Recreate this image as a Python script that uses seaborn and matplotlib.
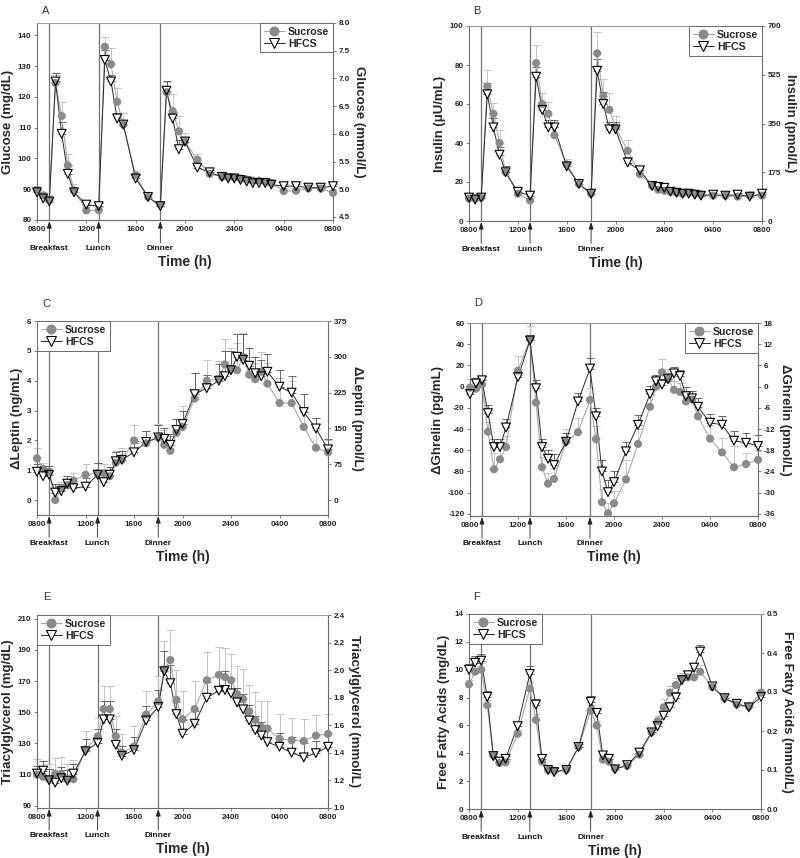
import numpy as np
import pandas as pd
import matplotlib
matplotlib.use("Agg")
import matplotlib.pyplot as plt
from matplotlib.lines import Line2D
import seaborn as sns

sns.set_theme(style="white")
plt.rcParams['font.family'] = ['Liberation Sans', 'DejaVu Sans']

# ---------------- data ----------------
# hours after 08:00
TIME = [0, 0.5, 1, 1.5, 2, 2.5, 3, 4, 5, 5.5, 6, 6.5, 7, 8, 9, 10, 10.5, 11, 11.5, 12,
        13, 14, 15, 15.5, 16, 16.5, 17, 17.5, 18, 18.5, 19, 20, 21, 22, 23, 24]
XTICKS = [0, 4, 8, 12, 16, 20, 24]
XTICK_LABELS = ["0800", "1200", "1600", "2000", "2400", "0400", "0800"]
MEAL_TIMES = [1, 5, 10]
MEAL_LABELS = ["Breakfast", "Lunch", "Dinner"]

glu_suc = [89.8, 88, 86.5, 124.5, 113.8, 97.7, 89.6, 83.1, 83.2, 136.3, 130.6, 118.4, 111, 94.5,
           87.5, 85, 121.5, 115.4, 108.8, 105.5, 99.6, 95, 94, 94, 93.8, 93.5, 93.2, 92.8, 92.8,
           92.5, 92, 89.4, 89.5, 90.3, 90.2, 88.8]
glu_suc_err = [1.2, 1, 1.5, 2.5, 4.4, 3.8, 2, 1.2, 1, 3.3, 5.4, 4.4, 3.6, 1.4, 1.6, 1, 3.2, 5.5, 5,
               2.7, 2, 1.2, 1.2, 1, 1, 1, 1, 1, 1, 1, 1, 1, 1, 1, 1, 1]
glu_hfcs = [89, 87, 86, 125, 108, 95, 89, 85, 84.5, 132, 125, 113, 111, 93.5, 87.5, 84.5, 122,
            113, 103, 105.5, 97, 95.5, 94, 93.5, 93.5, 93, 92.5, 92, 92, 92, 91.5, 91, 91, 90.5,
            90.5, 91]
glu_hfcs_err = [0.8, 0.8, 1.5, 2.9, 3.8, 2.9, 1.5, 1, 1, 3.2, 2.2, 1.6, 1.5, 1, 1, 1, 3, 2.2, 2.9,
                1.5, 1, 0.8, 0.8, 0.8, 0.8, 0.8, 0.8, 0.8, 0.8, 0.8, 0.8, 0.8, 0.8, 0.8, 0.8, 0.8]

ins_suc = [11.5, 11.5, 12, 69, 55, 40, 25, 14, 10.5, 81, 60, 55, 44, 29, 19, 14, 86, 64, 57, 48,
           36, 24, 18, 16, 15.5, 15, 14.5, 14, 14.5, 14, 13.5, 13, 13, 12.5, 13, 13]
ins_suc_err = [1.2, 1.2, 1.2, 8.4, 5.5, 6.5, 3.4, 1.5, 1.5, 9.2, 5.6, 6, 4.3, 2.6, 2, 2, 10.8, 8.9,
               8.6, 5.6, 5.5, 2.5, 1.5, 1.5, 1.2, 1.2, 1.2, 1.2, 1.2, 1.2, 1.2, 1.2, 1.2, 1.2, 1.2, 1.2]
ins_hfcs = [12, 11, 12, 65, 48, 34, 25, 15, 13, 74, 57, 48, 48, 28, 19, 14, 77, 60, 47, 47, 30,
            26, 18, 17.5, 17, 15, 14.5, 14, 14, 13.5, 13, 13.5, 13, 13.5, 12.5, 14]
ins_hfcs_err = [1, 1, 1, 6, 5, 4, 3, 1.5, 1.5, 5, 4, 4, 4, 2.5, 2, 1.5, 6, 6, 4, 4, 3, 2, 1, 1, 1,
                1, 1, 1, 1, 1, 1, 1, 1, 1, 1, 1]

lep_suc = [1.4, 1.05, 0.95, 0.0, 0.4, 0.5, 0.65, 0.85, 0.9, 0.9, 0.8, 1.25, 1.35, 2.0, 1.9, 2.1,
           1.85, 1.65, 2.25, 2.45, 3.4, 4.0, 4.05, 4.55, 4.4, 4.35, 4.8, 4.2, 4.05, 4.3, 3.9, 3.25,
           3.25, 2.45, 1.75, 1.6]
lep_suc_err = [0.35, 0.2, 0.2, 0.25, 0.2, 0.2, 0.25, 0.35, 0.35, 0.3, 0.3, 0.4, 0.4, 0.5, 0.4,
               0.45, 0.5, 0.5, 0.45, 0.7, 0.85, 0.7, 0.6, 0.85, 0.7, 0.9, 0.8, 0.6, 0.55, 0.65,
               0.7, 0.85, 0.75, 0.55, 0.6, 0.4]
lep_hfcs = [0.95, 0.8, 0.85, 0.25, 0.3, 0.55, 0.4, 0.45, 0.85, 0.6, 0.85, 1.3, 1.35, 1.6, 1.95,
            2.1, 2.05, 1.85, 2.35, 2.55, 3.55, 3.75, 4.0, 4.15, 4.35, 4.8, 4.7, 4.5, 4.25, 4.15,
            4.3, 3.8, 3.6, 2.95, 2.4, 1.7]
lep_hfcs_err = [0.25, 0.2, 0.3, 0.3, 0.25, 0.25, 0.25, 0.3, 0.4, 0.3, 0.25, 0.3, 0.3, 0.3, 0.35,
                0.4, 0.35, 0.35, 0.35, 0.45, 0.7, 0.45, 0.55, 0.85, 0.65, 0.75, 0.85, 0.6, 0.55,
                0.55, 0.6, 0.55, 0.55, 0.6, 0.35, 0.35]

ghr_suc = [-1, -2, 2, -42.5, -78, -68.5, -57, 15, 45, -15, -76, -91.5, -87, -52, -43, -12.5,
           -49.5, -109, -119.5, -110, -87.5, -54, -19, 0, 13.5, 7, -3, -5, -14, -12, -28, -49,
           -62, -76, -73, -69]
ghr_suc_err = [8, 6, 5, 9.5, 15, 12, 10, 14, 12, 12, 10, 10, 10, 12, 13, 11, 12, 12, 10, 12, 18,
               14, 12, 10, 13, 10, 8, 8, 8, 8, 8, 13, 14, 20, 10, 8]
ghr_hfcs = [-7, 3, 6, -25, -57, -57, -38.5, 9, 43.5, -1.5, -57, -68, -74, -52, -14, 17, -28, -80,
            -99.5, -90, -61, -36, -7, 5, 2, 7, 12.5, 10, -9, -11, -19, -34, -36, -51, -53, -56]
ghr_hfcs_err = [5, 5, 4, 8, 8, 8, 8, 7, 5, 8, 8, 8, 10, 8, 8, 10, 8, 11, 11, 10, 9, 9, 8, 6, 5, 6,
                6, 6, 9, 7, 8, 8, 8, 9, 9, 10]

tg_suc = [110, 108.5, 107, 110.5, 110.5, 107, 107, 126, 134.5, 152, 152, 134.5, 124, 128, 148.5,
          157, 177.5, 183.5, 158, 145.5, 152, 170.5, 174, 172.5, 170.5, 161.5, 158.5, 150.5, 145,
          140.5, 139.5, 133, 132, 131.5, 135, 136]
tg_suc_err = [10, 10, 10, 10, 11, 10, 12, 12, 12, 15, 15, 13, 12, 13, 15, 16, 18, 19, 19, 18, 18,
              18, 18, 19, 17, 18, 19, 17, 18, 17, 18, 16, 14, 14, 13, 13]
tg_hfcs = [110.6, 112.5, 106.3, 104.8, 107.6, 106, 110.6, 125, 130.4, 145.4, 145.4, 129, 122,
           125.8, 144.7, 153.3, 176.3, 168.6, 148.8, 136.2, 142.6, 159.3, 163.8, 164.3, 162.1,
           156.3, 151.8, 144.7, 138.5, 135, 130.8, 127.8, 124, 121, 123.7, 127.8]
tg_hfcs_err = [5, 6, 7, 5, 7, 7, 6, 8, 9, 12, 12, 10, 6, 8, 9, 11, 13, 12, 8, 9, 8, 10, 11, 12, 10,
               9, 10, 10, 9, 9, 9, 9, 10, 9, 8, 9]

ffa_suc = [8.95, 9.85, 10.0, 7.45, 3.85, 3.3, 3.35, 5.4, 8.65, 6.4, 3.4, 2.8, 2.75, 2.8, 4.45,
           7.05, 6.0, 3.55, 3.4, 2.9, 3.1, 3.9, 5.5, 6.3, 7.3, 8.35, 8.9, 9.35, 9.45, 9.45, 9.85,
           8.75, 7.95, 7.5, 7.35, 8.35]
ffa_suc_err = [0.3, 0.3, 0.5, 0.4, 0.3, 0.2, 0.2, 0.3, 0.5, 0.4, 0.2, 0.2, 0.2, 0.2, 0.25, 0.4,
               0.3, 0.3, 0.2, 0.2, 0.2, 0.25, 0.35, 0.4, 0.6, 0.5, 0.5, 0.4, 0.4, 0.45, 0.5, 0.4,
               0.3, 0.3, 0.3, 0.3]
ffa_hfcs = [10.0, 10.5, 10.65, 8.05, 3.8, 3.4, 3.6, 5.95, 9.7, 7.5, 3.6, 2.8, 2.65, 2.8, 4.45,
            7.7, 6.9, 3.85, 3.6, 2.85, 3.15, 4.05, 5.5, 5.95, 6.7, 7.3, 8.0, 9.25, 9.6, 10.15,
            11.3, 8.8, 7.95, 7.55, 7.3, 8.05]
ffa_hfcs_err = [0.4, 0.45, 0.45, 0.4, 0.2, 0.2, 0.2, 0.3, 0.55, 0.4, 0.2, 0.15, 0.15, 0.15, 0.2,
                0.4, 0.3, 0.2, 0.2, 0.15, 0.15, 0.2, 0.2, 0.25, 0.35, 0.4, 0.4, 0.4, 0.3, 0.35,
                0.5, 0.3, 0.4, 0.3, 0.2, 0.4]

# ---------------- styling ----------------
SUC_MK = "#8a8a8a"
SUC_LINE = "#a8a8a8"
SUC_ERR = "#c4c4c4"
HF_LINE = "#2a2a2a"
HF_ERR = "#505050"
SPINE = "#6a6a6a"
TICK_FS = 5.8
LAB_FS = 9.5

fig = plt.figure(figsize=(8.0, 8.58), dpi=100)
W, H = 800, 858


def add_axes(l, r, t, b):
    return fig.add_axes([l / W, 1 - b / H, (r - l) / W, (b - t) / H])


panels = [
    dict(letter="A", box=(37, 333, 23, 220), suc=glu_suc, suc_e=glu_suc_err, hf=glu_hfcs,
         hf_e=glu_hfcs_err, ylim=(80, 144), yticks=np.arange(80, 141, 10),
         factor=1 / 18.0, rticks=np.arange(4.5, 8.01, 0.5), rfmt="{:.1f}",
         ylabel="Glucose (mg/dL)", rlabel="Glucose (mmol/L)", legloc="upper right",
         letpos=(42, 6)),
    dict(letter="B", box=(469, 762, 26, 221), suc=ins_suc, suc_e=ins_suc_err, hf=ins_hfcs,
         hf_e=ins_hfcs_err, ylim=(0, 100), yticks=np.arange(0, 101, 20),
         factor=7.0, rticks=[0, 175, 350, 525, 700], rfmt="{:.0f}",
         ylabel="Insulin (μU/mL)", rlabel="Insulin (pmol/L)", legloc="upper right",
         letpos=(473, 6)),
    dict(letter="C", box=(37, 328, 321, 515), suc=lep_suc, suc_e=lep_suc_err, hf=lep_hfcs,
         hf_e=lep_hfcs_err, ylim=(-0.5, 6), yticks=np.arange(0, 7, 1),
         factor=62.5, rticks=np.arange(0, 376, 75), rfmt="{:.0f}",
         ylabel="ΔLeptin (ng/mL)", rlabel="ΔLeptin (pmol/L)", legloc="upper left",
         letpos=(42, 299)),
    dict(letter="D", box=(470, 758, 323, 516), suc=ghr_suc, suc_e=ghr_suc_err, hf=ghr_hfcs,
         hf_e=ghr_hfcs_err, ylim=(-122, 60), yticks=np.arange(-120, 61, 20),
         factor=0.3, rticks=np.arange(-36, 19, 6), rfmt="{:.0f}",
         ylabel="ΔGhrelin (pg/mL)", rlabel="ΔGhrelin (pmol/L)", legloc="upper right",
         letpos=(474, 298)),
    dict(letter="E", box=(37, 328, 615, 808), suc=tg_suc, suc_e=tg_suc_err, hf=tg_hfcs,
         hf_e=tg_hfcs_err, ylim=(88.5, 212.4), yticks=np.arange(90, 211, 20),
         factor=1 / 88.5, rticks=np.arange(1.0, 2.41, 0.2), rfmt="{:.1f}",
         ylabel="Triacylglycerol (mg/dL)", rlabel="Triacylglycerol (mmol/L)",
         legloc="upper left", letpos=(43, 592)),
    dict(letter="F", box=(469, 761, 614, 809), suc=ffa_suc, suc_e=ffa_suc_err, hf=ffa_hfcs,
         hf_e=ffa_hfcs_err, ylim=(0, 14), yticks=np.arange(0, 15, 2),
         factor=1 / 28.0, rticks=np.arange(0, 0.51, 0.1), rfmt="{:.1f}",
         ylabel="Free Fatty Acids (mg/dL)", rlabel="Free Fatty Acids (mmol/L)",
         legloc="upper left", letpos=(473, 592)),
]

for p in panels:
    l, r, t, b = p["box"]
    ax = add_axes(l, r, t, b)
    df = pd.DataFrame({
        "time": TIME * 2,
        "value": list(p["suc"]) + list(p["hf"]),
        "group": ["Sucrose"] * len(TIME) + ["HFCS"] * len(TIME),
    })
    suc_df = df[df.group == "Sucrose"]
    hf_df = df[df.group == "HFCS"]

    # meal lines
    for mt in MEAL_TIMES:
        ax.axvline(mt, color="#707070", lw=0.9, zorder=1)

    # error bars (upper only)
    ax.errorbar(TIME, p["suc"], yerr=[np.zeros(len(TIME)), p["suc_e"]], fmt="none",
                ecolor=SUC_ERR, elinewidth=0.7, capsize=2.8, capthick=0.7, zorder=2)
    ax.errorbar(TIME, p["hf"], yerr=[np.zeros(len(TIME)), p["hf_e"]], fmt="none",
                ecolor=HF_ERR, elinewidth=0.6, capsize=2.8, capthick=0.6, zorder=2.1)

    # lines
    sns.lineplot(data=suc_df, x="time", y="value", color=SUC_LINE, lw=0.8, ax=ax,
                 legend=False, zorder=2.5)
    sns.lineplot(data=hf_df, x="time", y="value", color=HF_LINE, lw=0.7, ax=ax,
                 legend=False, zorder=2.6)

    # markers: white triangle fill, then circles, then triangle outlines
    sns.scatterplot(data=hf_df, x="time", y="value", marker="v", s=40, color="white",
                    edgecolor="none", linewidth=0, ax=ax, legend=False, zorder=3)
    sns.scatterplot(data=suc_df, x="time", y="value", marker="o", s=34, color=SUC_MK,
                    edgecolor="none", linewidth=0, ax=ax, legend=False, zorder=4)
    sns.scatterplot(data=hf_df, x="time", y="value", marker="v", s=40, facecolor="none",
                    edgecolor="black", linewidth=0.8, ax=ax, legend=False, zorder=5)
    for coll in ax.collections:
        coll.set_clip_on(False)
    for ln in ax.lines:
        ln.set_clip_on(False)

    ax.set_xlim(0, 24)
    ax.set_ylim(*p["ylim"])
    ax.set_xticks(XTICKS)
    ax.set_xticklabels(XTICK_LABELS)
    ax.set_yticks(p["yticks"])
    ax.set_yticklabels([f"{v:g}" for v in p["yticks"]])
    ax.set_xlabel("")
    ax.set_ylabel(p["ylabel"], fontsize=LAB_FS, fontweight="bold", labelpad=3)
    ax.tick_params(axis="both", which="major", direction="out", length=2.5, width=0.6,
                   labelsize=TICK_FS, pad=1.5, colors="#222222", color=SPINE,
                   bottom=True, left=True)
    for lab in ax.get_xticklabels() + ax.get_yticklabels():
        lab.set_fontweight("bold")
    for sp in ax.spines.values():
        sp.set_color(SPINE)
        sp.set_linewidth(0.8)
    ax.spines["top"].set_color("#999999")
    ax.grid(False)

    # right axis
    ax2 = ax.twinx()
    ax2.set_ylim(p["ylim"][0] * p["factor"], p["ylim"][1] * p["factor"])
    ax2.set_yticks(p["rticks"])
    ax2.set_yticklabels([p["rfmt"].format(v) for v in p["rticks"]])
    ax2.tick_params(axis="y", direction="out", length=2.5, width=0.6, labelsize=TICK_FS,
                    pad=1.5, colors="#222222", color=SPINE, right=True)
    for lab in ax2.get_yticklabels():
        lab.set_fontweight("bold")
    for sp in ax2.spines.values():
        sp.set_visible(False)
    ax2.set_ylabel(p["rlabel"], fontsize=LAB_FS, fontweight="bold", rotation=-90,
                   labelpad=11)
    ax2.grid(False)
    ax.set_zorder(ax2.get_zorder() + 1)
    ax.patch.set_visible(False)

    # meal arrows and labels
    for mt, ml in zip(MEAL_TIMES, MEAL_LABELS):
        ax.annotate("", xy=(mt, -0.005), xycoords=("data", "axes fraction"),
                    xytext=(mt, -0.115), textcoords=("data", "axes fraction"),
                    arrowprops=dict(arrowstyle="-|>,head_length=0.35,head_width=0.12",
                                    color="#222222", lw=0.6, shrinkA=0, shrinkB=0),
                    annotation_clip=False)
        ax.text(mt, -0.145, ml, transform=ax.get_xaxis_transform(), ha="center",
                va="center", fontsize=6.0, fontweight="bold", color="#111111")

    ax.text(0.5, -0.215, "Time (h)", transform=ax.transAxes, ha="center", va="center",
            fontsize=LAB_FS + 0.5, fontweight="bold")

    # legend
    handles = [
        Line2D([], [], color=SUC_LINE, lw=0.8, marker="o", markersize=6.2,
               markerfacecolor=SUC_MK, markeredgecolor=SUC_MK, label="Sucrose"),
        Line2D([], [], color=HF_LINE, lw=0.7, marker="v", markersize=6.8,
               markerfacecolor="white", markeredgecolor="black", markeredgewidth=0.8,
               label="HFCS"),
    ]
    leg = ax.legend(handles=handles, loc=p["legloc"], frameon=True,
                    fancybox=False, borderaxespad=0.0, handlelength=2.0, handletextpad=0.3,
                    borderpad=0.35, labelspacing=0.2, prop=dict(weight="bold", size=7.6))
    leg.get_frame().set_edgecolor("#6a6a6a")
    leg.get_frame().set_linewidth(0.7)
    leg.get_frame().set_alpha(1)
    leg.set_zorder(10)

    fig.text(p["letpos"][0] / W, 1 - p["letpos"][1] / H, p["letter"], fontsize=8,
             ha="left", va="top", color="#333333")

fig.savefig("out.png", dpi=100, facecolor="white")
